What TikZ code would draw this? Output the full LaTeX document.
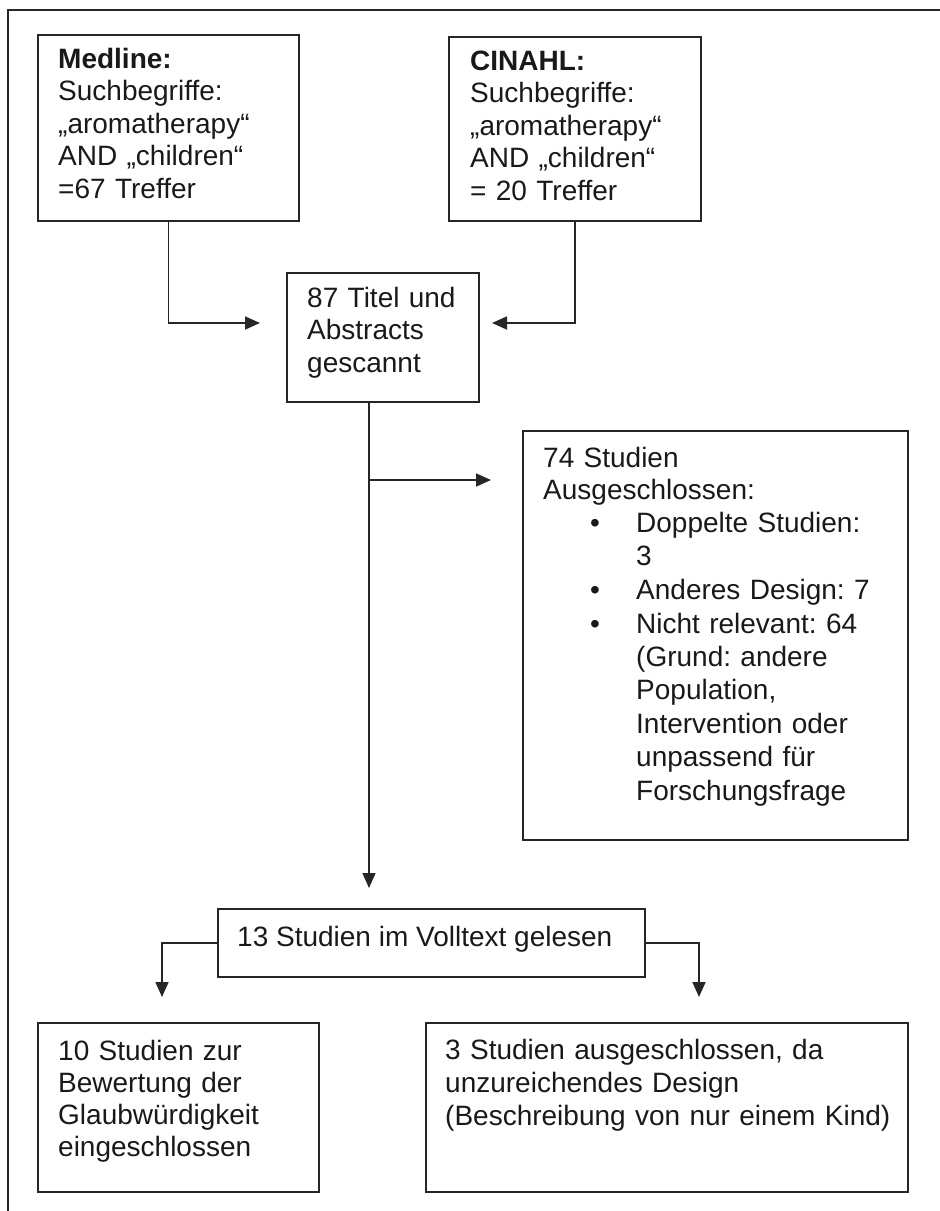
\documentclass[tikz,border=0pt]{standalone}
\usepackage{fontspec}
\setmainfont{Liberation Sans}
\usetikzlibrary{arrows.meta}
\frenchspacing
\begin{document}
\begin{tikzpicture}[x=1pt,y=-1pt,
  box/.style={draw=black!85,line width=1.8pt,rectangle,inner sep=0pt,anchor=north west},
  txt/.style={anchor=base west,inner sep=0pt,align=left,text=black!90,font=\frenchspacing\fontsize{28}{32.5}\selectfont},
  conn/.style={line width=1.7pt,draw=black!85},
  arr/.style={conn,-{Triangle[length=15pt,width=13pt]}},
  frame/.style={line width=1.6pt,draw=black!85}]
\useasboundingbox (0,0) rectangle (940,1211);
% outer frame (cut off at right and bottom)
\coordinate (fbl) at (8,1215);
\coordinate (ftl) at (8,10);
\coordinate (ftr) at (945,10);
\draw[frame] (fbl) -- (ftl) -- (ftr);
% boxes
\node[box,minimum width=261pt,minimum height=186pt] (med) at (37,34) {};
\node[box,minimum width=252pt,minimum height=184pt] (cin) at (448,36) {};
\node[box,minimum width=192pt,minimum height=129pt] (titel) at (286,272) {};
\node[box,minimum width=385pt,minimum height=409pt] (aus) at (522,430) {};
\node[box,minimum width=427pt,minimum height=68pt] (voll) at (217,908) {};
\node[box,minimum width=281pt,minimum height=169pt] (ein) at (37,1022) {};
\node[box,minimum width=482pt,minimum height=169pt] (dre) at (425,1022) {};
% texts
\node[txt,text width=240pt] (tmed) at (58,68) {\textbf{Medline:}\\Suchbegriffe:\\„aromatherapy“\\AND „children“\\=67 Treffer};
\node[txt,text width=230pt] (tcin) at (470,70) {\textbf{CINAHL:}\\Suchbegriffe:\\„aromatherapy“\\AND „children“\\= 20 Treffer};
\node[txt,text width=170pt] (ttitel) at (307,307) {87 Titel und\\Abstracts\\gescannt};
\node[txt,text width=360pt] (taus) at (543,467) {74 Studien\\Ausgeschlossen:};
\node[txt] (b1) at (590,532) {•};
\node[txt] (b2) at (590,599) {•};
\node[txt] (b3) at (590,633) {•};
\node[txt,text width=265pt,font=\frenchspacing\fontsize{28}{33}\selectfont] (i1) at (636,532) {Doppelte Studien:\\3};
\node[txt,text width=265pt] (i2) at (636,599) {Anderes Design: 7};
\node[txt,text width=265pt,font=\frenchspacing\fontsize{28}{33.4}\selectfont] (i3) at (636,633) {Nicht relevant: 64\\(Grund: andere\\Population,\\Intervention oder\\unpassend für\\Forschungsfrage};
\node[txt] (tvoll) at (237,946) {13 Studien im Volltext gelesen};
\node[txt,text width=260pt,font=\frenchspacing\fontsize{28}{32}\selectfont] (tein) at (58,1060) {10 Studien zur\\Bewertung der\\Glaubwürdigkeit\\eingeschlossen};
\node[txt,text width=460pt,font=\frenchspacing\fontsize{28}{33}\selectfont] (tdre) at (445,1059) {3 Studien ausgeschlossen, da\\unzureichendes Design\\(Beschreibung von nur einem Kind)};
% connector end points
\coordinate (medend) at (260,323);
\coordinate (cinend) at (492,323);
\coordinate (vend) at (369,888);
\coordinate (bstart) at (369,480);
\coordinate (bend) at (491,480);
\coordinate (lend) at (162,997);
\coordinate (rend) at (699,997);
% connectors
\draw[arr] (med.south) |- (medend);
\draw[arr] (cin.south) |- (cinend);
\draw[arr] (titel.south -| vend) -- (vend);
\draw[arr] (bstart) -- (bend);
\draw[arr] (voll.west) -| (lend);
\draw[arr] (voll.east) -| (rend);
\end{tikzpicture}
\end{document}
